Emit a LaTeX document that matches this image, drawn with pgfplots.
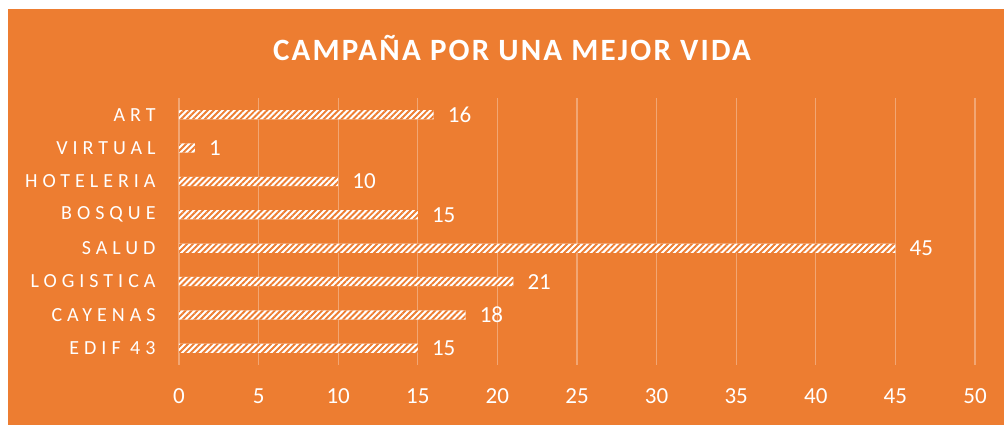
\documentclass[border=0pt]{standalone}
\usepackage{pgfplots}
\pgfplotsset{compat=1.18}
\usepackage{fontspec}
\usetikzlibrary{patterns.meta}
\setmainfont{Carlito}
\newfontfamily\catfont[LetterSpace=25]{Carlito}
\newfontfamily\titlefont[LetterSpace=7]{Carlito}
\definecolor{bgorange}{HTML}{ED7D31}
\begin{document}
\begin{tikzpicture}[x=1pt,y=1pt]
\useasboundingbox (0,0) rectangle (1004,425);
\fill[bgorange] (8,0) rectangle (1004,416);
\node[text=white, font={\titlefont\bfseries\fontsize{31}{36}\selectfont}] at (512,377) {CAMPAÑA POR UNA MEJOR VIDA};
\begin{axis}[
  at={(179pt,60pt)}, anchor=south west,
  scale only axis, width=796pt, height=267pt,
  xbar, bar width=9.3pt,
  xmin=0, xmax=50, ymin=-0.5, ymax=7.5,
  xtick={0,5,...,50}, ytick={0,1,...,7},
  yticklabels={EDIF 43,CAYENAS,LOGISTICA,SALUD,BOSQUE,HOTELERIA,VIRTUAL,ART},
  axis line style={draw=none}, major tick style={draw=none},
  xmajorgrids, major grid style={white, opacity=0.32, line width=1.3pt},
  /pgf/number format/assume math mode=true,
  xticklabel style={font=\fontsize{23}{27}\selectfont, text=white, anchor=center, yshift=-31pt, inner sep=0pt},
  yticklabel style={font=\catfont\fontsize{20}{24}\selectfont, text=white, anchor=east, inner sep=0pt, xshift=-19pt},
  nodes near coords,
  every node near coord/.append style={font=\fontsize{23}{27}\selectfont, text=white, anchor=west, inner sep=0pt, xshift=14pt},
]
\addplot[draw=none, fill=white, postaction={pattern={Lines[angle=45,distance=4.2pt,line width=1.9pt]}, pattern color=bgorange}]
  coordinates {(15,0) (18,1) (21,2) (45,3) (15,4) (10,5) (1,6) (16,7)};
\end{axis}
\end{tikzpicture}
\end{document}
